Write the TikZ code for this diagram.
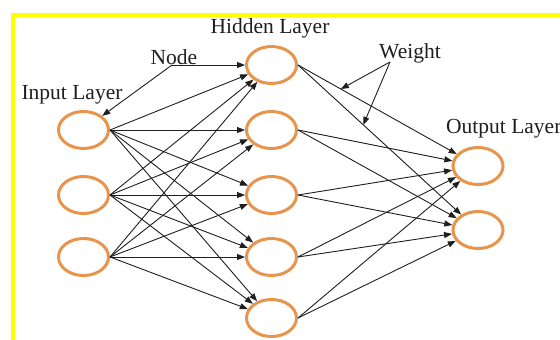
\documentclass[tikz,border=0pt]{standalone}
\usepackage{fontspec}
\setmainfont{Liberation Serif}
\usetikzlibrary{shapes.geometric,arrows.meta}
\definecolor{ringorange}{HTML}{E8944C}
\definecolor{edgegray}{HTML}{1F1F1F}
\definecolor{frameyellow}{HTML}{FFFF00}
\begin{document}
\begin{tikzpicture}[x=1pt,y=-1pt,
  neuron/.style={ellipse,draw=ringorange,line width=3pt,minimum width=50pt,minimum height=37pt,inner sep=0pt,fill=white},
  conn/.style={draw=edgegray,line width=0.9pt,-{Triangle[length=8pt,width=6pt]}},
  lbl/.style={font=\fontsize{21.5}{24}\selectfont,text=edgegray,anchor=base,inner sep=0pt}]
\useasboundingbox[fill=white] (0,0) rectangle (560,340);
\draw[frameyellow,line width=4pt] (12.5,345) -- (12.5,14.5) -- (565,14.5);
% nodes
\node[neuron] (i1) at (83.5,130) {};
\node[neuron] (i2) at (83.5,195) {};
\node[neuron] (i3) at (83.5,257) {};
\node[neuron] (h1) at (271.5,65) {};
\node[neuron] (h2) at (271.5,130) {};
\node[neuron] (h3) at (271.5,195) {};
\node[neuron] (h4) at (271.5,257) {};
\node[neuron] (h5) at (271.5,318) {};
\node[neuron] (o1) at (478,166) {};
\node[neuron] (o2) at (478,230) {};
% labels
\node[lbl] (hl) at (270,33) {Hidden Layer};
\node[lbl] (nl) at (174,64) {Node};
\node[lbl] (il) at (72,99) {Input Layer};
\node[lbl] (wl) at (410,58) {Weight};
\node[lbl,anchor=base west] (ol) at (446,133.5) {Output Layer};
% input -> hidden
\foreach \i in {1,2,3}{
  \foreach \h in {1,2,3,4,5}{
    \draw[conn] (i\i.east) -- (h\h);
  }
}
% hidden -> output
\foreach \h in {2,3,4,5}{
  \foreach \o in {1,2}{
    \draw[conn] (h\h.east) -- (o\o);
  }
}
\draw[conn] (h1.east) -- (o1) coordinate[pos=0.27] (w1);
\draw[conn] (h1.east) -- (o2) coordinate[pos=0.4] (w2);
% annotation arrows
\coordinate (nf) at (172,65);
\coordinate (wf) at (390,62);
\draw[conn] (nf) -- (h1.west);
\draw[conn] (nf) -- (i1.north east);
\draw[conn] (wf) -- (w1);
\draw[conn] (wf) -- (w2);
\end{tikzpicture}
\end{document}
